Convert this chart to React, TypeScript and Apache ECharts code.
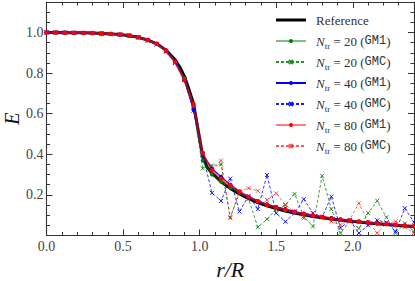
import React, { useEffect, useRef } from 'react';
import * as echarts from 'echarts';

// r/R grid shared by the trial series
const rGrid = [0, 0.06, 0.12, 0.18, 0.24, 0.3, 0.36, 0.42, 0.48, 0.54, 0.6, 0.66, 0.72, 0.78, 0.84, 0.9, 0.96, 1.02, 1.08, 1.14, 1.2, 1.26, 1.32, 1.38, 1.44, 1.5, 1.56, 1.62, 1.68, 1.74, 1.8, 1.86, 1.92, 1.98, 2.04, 2.1, 2.16, 2.22, 2.28, 2.34, 2.4];

// Reference curve (finer sampling in the steep part)
const refR = [0, 0.06, 0.12, 0.18, 0.24, 0.3, 0.36, 0.42, 0.48, 0.54, 0.6, 0.66, 0.72, 0.78, 0.84, 0.87, 0.9, 0.93, 0.96, 0.99, 1.02, 1.05, 1.08, 1.14, 1.2, 1.26, 1.32, 1.38, 1.44, 1.5, 1.56, 1.62, 1.68, 1.74, 1.8, 1.86, 1.92, 1.98, 2.04, 2.1, 2.16, 2.22, 2.28, 2.34, 2.4];
const refE = [1.0, 1.0, 0.999, 0.999, 0.998, 0.997, 0.995, 0.993, 0.99, 0.984, 0.976, 0.963, 0.944, 0.913, 0.865, 0.83, 0.785, 0.72, 0.65, 0.52, 0.39, 0.335, 0.308, 0.265, 0.232, 0.205, 0.182, 0.162, 0.146, 0.133, 0.121, 0.111, 0.102, 0.094, 0.087, 0.081, 0.076, 0.071, 0.066, 0.062, 0.058, 0.054, 0.051, 0.047, 0.044];

const e20GM1 = [1.0, 1.0, 0.999, 0.998, 0.997, 0.996, 0.994, 0.992, 0.989, 0.984, 0.975, 0.962, 0.943, 0.912, 0.86, 0.775, 0.635, 0.37, 0.3, 0.265, 0.235, 0.21, 0.19, 0.17, 0.152, 0.14, 0.128, 0.116, 0.106, 0.099, 0.091, 0.085, 0.078, 0.074, 0.069, 0.064, 0.06, 0.056, 0.053, 0.049, 0.046];
const e20GMC = [1.0, 0.999, 1.0, 0.998, 0.998, 0.996, 0.995, 0.992, 0.99, 0.984, 0.976, 0.96, 0.942, 0.905, 0.855, 0.772, 0.63, 0.33, 0.345, 0.35, 0.09, 0.21, 0.18, 0.041, 0.08, 0.13, 0.15, 0.205, 0.093, 0.045, 0.294, 0.13, 0.012, 0.07, 0.035, 0.11, 0.171, 0.09, 0.012, 0.06, 0.02];
const e40GM1 = [1.001, 1.0, 1.0, 0.999, 0.998, 0.997, 0.995, 0.993, 0.99, 0.985, 0.977, 0.964, 0.945, 0.913, 0.858, 0.765, 0.62, 0.4, 0.33, 0.29, 0.25, 0.215, 0.19, 0.17, 0.153, 0.14, 0.13, 0.118, 0.108, 0.1, 0.092, 0.086, 0.08, 0.074, 0.069, 0.064, 0.06, 0.056, 0.052, 0.049, 0.046];
const e40GMC = [1.0, 1.0, 0.999, 0.999, 0.997, 0.997, 0.994, 0.993, 0.989, 0.986, 0.976, 0.962, 0.941, 0.909, 0.85, 0.768, 0.615, 0.4, 0.21, 0.17, 0.28, 0.118, 0.195, 0.13, 0.298, 0.11, 0.068, 0.11, 0.179, 0.11, 0.09, 0.192, 0.037, 0.075, 0.012, 0.05, 0.075, 0.065, 0.02, 0.134, 0.065];
const e80GM1 = [1.0, 1.0, 0.999, 0.999, 0.998, 0.997, 0.996, 0.993, 0.99, 0.985, 0.976, 0.963, 0.944, 0.911, 0.854, 0.767, 0.645, 0.405, 0.322, 0.28, 0.249, 0.216, 0.19, 0.168, 0.152, 0.138, 0.127, 0.116, 0.106, 0.098, 0.091, 0.084, 0.078, 0.073, 0.068, 0.064, 0.059, 0.056, 0.052, 0.049, 0.046];
const e80GMC = [1.0, 1.0, 0.999, 0.998, 0.998, 0.997, 0.995, 0.992, 0.99, 0.984, 0.975, 0.961, 0.941, 0.908, 0.852, 0.77, 0.64, 0.405, 0.315, 0.369, 0.085, 0.22, 0.233, 0.22, 0.175, 0.208, 0.15, 0.118, 0.085, 0.11, 0.093, 0.069, 0.052, 0.077, 0.159, 0.068, 0.012, 0.06, 0.07, 0.04, 0.012];

const legendNames = ['Reference', 'N20GM1', 'N20GMC', 'N40GM1', 'N40GMC', 'N80GM1', 'N80GMC'];
const legendN = ['', '20', '20', '40', '40', '80', '80'];
const legendMethod = ['', 'GM1', 'GMC', 'GM1', 'GMC', 'GM1', 'GMC'];

const SERIF = 'Liberation Serif';
const MONO = 'Liberation Mono';
const AXIS = '#333';
const X_SYMBOL = 'path://M0,0L10,10M10,0L0,10';

const zip = (xs: number[], ys: number[]) => xs.map((x, i) => [x, ys[i]]);

export default function App() {
  const ref = useRef<HTMLDivElement>(null);
  useEffect(() => {
    if (!ref.current) return;
    const chart = echarts.init(ref.current, null, { renderer: 'svg' });

    const xBase = (pos: string, interval: number, len: number, labels: boolean, line: boolean) => ({
      type: 'value', position: pos, min: 0, max: 2.4, interval, gridIndex: 0,
      axisLine: { show: line, onZero: false, lineStyle: { color: AXIS, width: 1.1 } },
      axisTick: { show: true, inside: true, length: len, lineStyle: { color: AXIS, width: 1 } },
      axisLabel: labels ? {
        show: true, showMaxLabel: false, margin: 4, fontFamily: SERIF, fontSize: 14, color: '#444',
        formatter: (v: number) => v.toFixed(1),
      } : { show: false },
      splitLine: { show: false },
    });
    const yBase = (pos: string, interval: number, len: number, labels: boolean, line: boolean) => ({
      type: 'value', position: pos, min: 0, max: 1.15, interval, gridIndex: 0,
      axisLine: { show: line, onZero: false, lineStyle: { color: AXIS, width: 1.1 } },
      axisTick: { show: true, inside: true, length: len, lineStyle: { color: AXIS, width: 1 } },
      axisLabel: labels ? {
        show: true, showMaxLabel: false, showMinLabel: false, margin: 3, fontFamily: SERIF, fontSize: 14, color: '#444',
        formatter: (v: number) => v.toFixed(1),
      } : { show: false },
      splitLine: { show: false },
    });

    const xAxes: any[] = [
      { ...xBase('bottom', 0.5, 6, true, true), name: 'r/R', nameLocation: 'middle', nameGap: 20,
        nameTextStyle: { fontFamily: SERIF, fontStyle: 'italic', fontSize: 22, color: '#111' } },
      xBase('bottom', 0.1, 3.5, false, false),
      xBase('top', 0.5, 6, false, true),
      xBase('top', 0.1, 3.5, false, false),
    ];
    const yAxes: any[] = [
      { ...yBase('left', 0.2, 6, true, true), name: 'E', nameLocation: 'middle', nameGap: 27, nameRotate: 90,
        nameMoveOverlap: false,
        nameTextStyle: { fontFamily: SERIF, fontStyle: 'italic', fontSize: 20, lineHeight: 15, color: '#111' } },
      yBase('left', 0.05, 3.5, false, false),
      yBase('right', 0.2, 6, false, true),
      yBase('right', 0.05, 3.5, false, false),
    ];

    const gm1 = (name: string, data: number[], color: string, width: number, lineOpacity: number, size: number) => ({
      type: 'line', name, data: zip(rGrid, data), xAxisIndex: 0, yAxisIndex: 0,
      symbol: 'circle', symbolSize: size, showSymbol: true, showAllSymbol: true,
      lineStyle: { color, width, opacity: lineOpacity },
      itemStyle: { color, opacity: 1 },
      emphasis: { disabled: true },
    });
    const gmc = (name: string, data: number[], color: string, width: number, opacity: number) => ({
      type: 'line', name, data: zip(rGrid, data), xAxisIndex: 0, yAxisIndex: 0,
      symbol: X_SYMBOL, symbolSize: 4, showSymbol: true, showAllSymbol: true,
      lineStyle: { color, width, type: [3, 2], opacity },
      itemStyle: { color, borderColor: color, borderWidth: 1, opacity },
      emphasis: { disabled: true },
    });

    const richBase = { fontFamily: SERIF, fontSize: 13, fontWeight: 'normal', color: '#333', lineHeight: 18 };

    chart.setOption({
      animation: false,
      backgroundColor: '#fff',
      grid: { left: 46.5, right: 1, top: 2, bottom: 45.5, containLabel: false, outerBoundsMode: 'none' },
      xAxis: xAxes,
      yAxis: yAxes,
      legend: {
        data: [
          { name: 'Reference', icon: 'path://M0,0H30V3H0Z' },
          ...legendNames.slice(1),
        ],
        orient: 'vertical',
        left: 275,
        top: 11,
        padding: 0,
        itemWidth: 30,
        itemHeight: 5,
        itemGap: 3,
        align: 'left',
        selectedMode: false,
        textStyle: {
          ...richBase,
          padding: [0, 0, 0, 5],
          rich: {
            r: { ...richBase },
            n: { ...richBase, fontStyle: 'italic' },
            s: { fontFamily: SERIF, fontSize: 9, fontWeight: 'normal', color: '#333', lineHeight: 10, verticalAlign: 'bottom' },
            t: { ...richBase },
            m: { ...richBase, fontFamily: MONO, fontSize: 12 },
          },
        },
        formatter: (name: string) => {
          const i = legendNames.indexOf(name);
          if (i === 0) return '{r|Reference}';
          return `{n|N}{s|tr}{t| = ${legendN[i]} (}{m|${legendMethod[i]}}{t|)}`;
        },
      },
      series: [
        {
          type: 'line', name: 'Reference', data: zip(refR, refE), xAxisIndex: 0, yAxisIndex: 0,
          symbol: 'none', showSymbol: false,
          lineStyle: { color: '#000', width: 3 },
          itemStyle: { color: '#000' },
          emphasis: { disabled: true },
        },
        gm1('N20GM1', e20GM1, '#008000', 2, 0.5, 4),
        gmc('N20GMC', e20GMC, '#008000', 0.9, 0.85),
        gm1('N40GM1', e40GM1, '#0000ff', 1.2, 1, 4),
        gmc('N40GMC', e40GMC, '#0000ff', 0.9, 0.9),
        gm1('N80GM1', e80GM1, '#ff0000', 2.5, 0.5, 4.5),
        gmc('N80GMC', e80GMC, '#ff0000', 0.9, 0.65),
      ],
    });
    return () => chart.dispose();
  }, []);
  return (
    <div
      ref={ref}
      style={{ position: 'fixed', left: 0, top: 0, width: 415, height: 281, background: '#fff' }}
    />
  );
}
